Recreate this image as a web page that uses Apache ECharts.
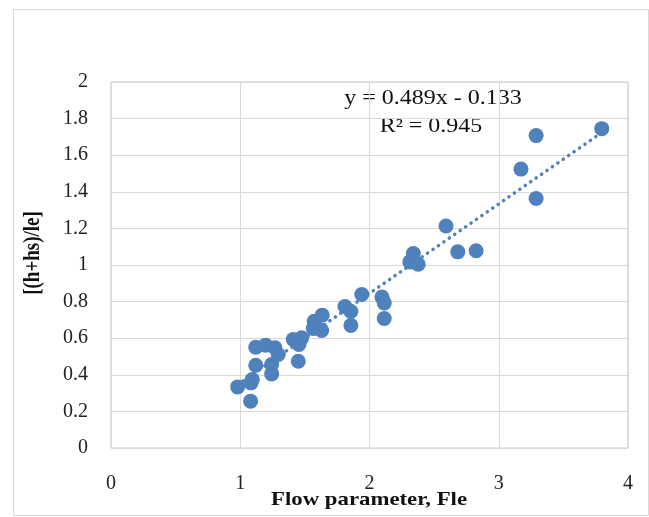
<!DOCTYPE html>
<html>
<head>
<meta charset="utf-8">
<title>Flow parameter scatter</title>
<script src="https://cdn.jsdelivr.net/npm/echarts@6/dist/echarts.min.js"></script>
<style>
  html, body { margin: 0; padding: 0; background: #fff; }
  #chart { width: 649px; height: 517px; }
</style>
</head>
<body>
<div id="chart"></div>
<script>
// measured points: Flow parameter (Fle) vs [(h+hs)/le]
const fle = [
  0.98, 1.08, 1.083, 1.093, 1.12, 1.12, 1.196, 1.268, 1.294, 1.243,
  1.243, 1.449, 1.41, 1.475, 1.454, 1.572, 1.634, 1.63, 1.565, 1.81,
  1.856, 1.856, 1.94, 2.096, 2.114, 2.114, 2.339, 2.312, 2.377, 2.592,
  2.683, 2.825, 3.172, 3.289, 3.289, 3.797
]
const ratio = [
  0.334, 0.256, 0.356, 0.374, 0.452, 0.551, 0.562, 0.548, 0.511, 0.456,
  0.405, 0.474, 0.593, 0.602, 0.566, 0.693, 0.726, 0.642, 0.653, 0.773,
  0.746, 0.67, 0.839, 0.825, 0.793, 0.708, 1.063, 1.017, 1.004, 1.213,
  1.072, 1.078, 1.524, 1.707, 1.363, 1.745
]

// linear trendline as printed on the chart
const slope = 0.489
const intercept = -0.133
const trendX = [0.98, 3.8]
const equationLines = ['y = 0.489x - 0.133', 'R² = 0.945']

const xTicks = [0, 1, 2, 3, 4]
const yTicks = [0, 0.2, 0.4, 0.6, 0.8, 1, 1.2, 1.4, 1.6, 1.8, 2]

const blue = '#4f81bd'
const gridGray = '#d9d9d9'
const serif = '"Liberation Serif", "Times New Roman", serif'
// the original picture is a bit stretched sideways
const stretch = 1.2

const chart = echarts.init(document.getElementById('chart'), null, { renderer: 'canvas' })

function label(text, x, y, bold, rotate) {
  return {
    type: 'text',
    x: x,
    y: y,
    rotation: rotate ? Math.PI / 2 : 0,
    scaleX: rotate ? 1 : stretch,
    scaleY: rotate ? stretch : 1,
    style: {
      text: text,
      fontFamily: serif,
      fontWeight: bold ? 'bold' : 'normal',
      fontSize: bold ? 19 : 20,
      fill: '#111',
      align: 'center',
      verticalAlign: 'middle'
    }
  }
}

chart.setOption({
  animation: false,
  backgroundColor: '#fff',
  grid: {
    left: 111,
    right: 21,
    top: 82,
    bottom: 69,
    show: true,
    borderColor: '#c6c6c6',
    borderWidth: 1
  },
  xAxis: {
    type: 'value',
    min: xTicks[0],
    max: xTicks[xTicks.length - 1],
    interval: 1,
    axisLine: { show: false },
    axisTick: { show: false },
    axisLabel: {
      margin: 26,
      fontFamily: serif,
      fontSize: 20,
      color: '#222'
    },
    splitLine: { show: true, lineStyle: { color: gridGray, width: 1 } }
  },
  yAxis: {
    type: 'value',
    min: yTicks[0],
    max: yTicks[yTicks.length - 1],
    interval: 0.2,
    axisLine: { show: false },
    axisTick: { show: false },
    axisLabel: {
      margin: 23,
      fontFamily: serif,
      fontSize: 20,
      color: '#222',
      formatter: v => String(Math.round(v * 10) / 10)
    },
    splitLine: { show: true, lineStyle: { color: gridGray, width: 1 } }
  },
  graphic: [
    {
      type: 'rect',
      z: -10,
      shape: { x: 13.5, y: 9.5, width: 635, height: 506 },
      style: { fill: null, stroke: gridGray, lineWidth: 1 }
    },
    label('[(h+hs)/le]', 33, 253, true, true),
    label('Flow parameter, Fle', 369, 500, true, false),
    label(equationLines[0], 433, 99, false, false),
    label(equationLines[1], 431, 127, false, false)
  ],
  series: [
    {
      name: 'trend',
      type: 'line',
      data: trendX.map(x => [x, slope * x + intercept]),
      showSymbol: false,
      symbol: 'none',
      z: 3,
      lineStyle: {
        color: blue,
        width: 3.5,
        type: [0.1, 6.5],
        cap: 'round'
      }
    },
    {
      name: 'data',
      type: 'scatter',
      data: fle.map((x, i) => [x, ratio[i]]),
      symbol: 'circle',
      symbolSize: 15,
      z: 2,
      itemStyle: { color: blue, opacity: 1 }
    }
  ]
})
</script>
</body>
</html>
